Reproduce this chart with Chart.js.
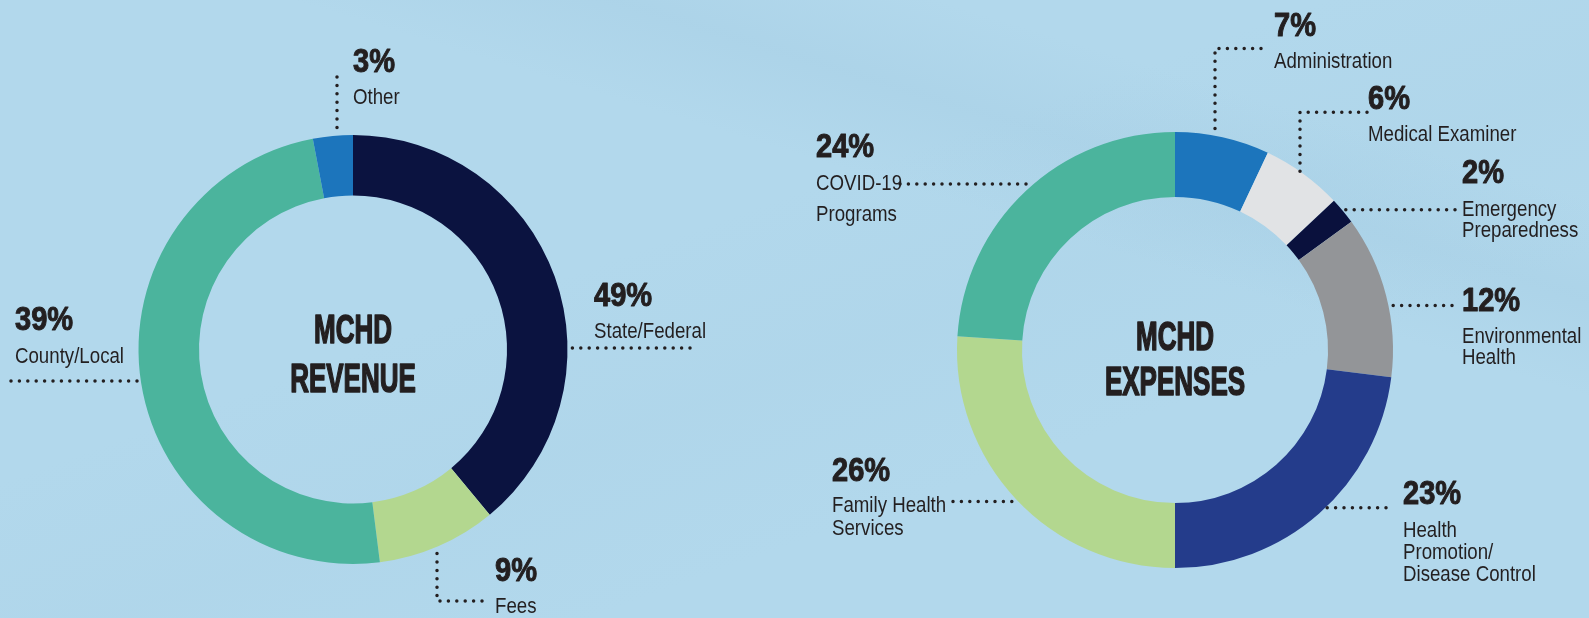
<!DOCTYPE html>
<html>
<head>
<meta charset="utf-8">
<title>MCHD Revenue and Expenses</title>
<script src="https://cdn.jsdelivr.net/npm/chart.js@4/dist/chart.umd.min.js"></script>
<style>
  html, body { margin: 0; padding: 0; }
  body {
    width: 1589px;
    height: 618px;
    overflow: hidden;
    position: relative;
    background:
      linear-gradient(197deg, rgba(255,255,255,0) 18%, rgba(140,185,212,0.14) 27%, rgba(255,255,255,0) 36%),
      linear-gradient(160deg, rgba(255,255,255,0) 40%, rgba(150,192,216,0.08) 55%, rgba(255,255,255,0) 70%),
      #b2d8ec;
  }
  canvas { position: absolute; left: 0; top: 0; }
</style>
</head>
<body>
<canvas id="revenueChart" width="1589" height="618"></canvas>
<canvas id="expenseChart" width="1589" height="618"></canvas>
<script>
// Revenue ring. Arc shares are read off the drawn ring; the printed
// percentages are kept exactly as the graphic prints them.
const revenueNames = ['State/Federal', 'Fees', 'County/Local', 'Other'];
const revenueShares = [39, 9, 49, 3];
const revenuePrinted = ['49%', '9%', '39%', '3%'];
const revenueColors = ['#0b1340', '#b3d78f', '#4bb49d', '#1c75bc'];

// Expense ring
const expenseNames = ['Administration', 'Medical Examiner', 'Emergency\nPreparedness',
  'Environmental\nHealth', 'Health\nPromotion/\nDisease Control', 'Family Health\nServices',
  'COVID-19\nPrograms'];
const expenseShares = [7, 6, 2, 12, 23, 26, 24];
const expensePrinted = expenseShares.map(v => v + '%');
const expenseColors = ['#1c75bc', '#e1e3e5', '#0a113d', '#939598', '#243c8b', '#b3d78f', '#4bb49d'];

const INK = '#231f20';
const FAMILY = "'Liberation Sans', Arial, sans-serif";

// text placement + leader path (label end first, last leg runs to the ring)
const revenueLayout = {
  title: ['MCHD', 'REVENUE'], titleOffsets: [-7, 42],
  callouts: [
    { x: 594, pct: 305.5, lines: [338], path: [[690, 348]], axis: 'h' },
    { x: 495, pct: 581, lines: [613], path: [[482, 601], [437, 601]], axis: 'v' },
    { x: 15, pct: 330, lines: [362.5], path: [[11, 381]], axis: 'h' },
    { x: 353, pct: 72, lines: [103.5], path: [[337, 77]], axis: 'v' }
  ]
};

const expenseLayout = {
  title: ['MCHD', 'EXPENSES'], titleOffsets: [0, 45],
  callouts: [
    { x: 1274, pct: 35.5, lines: [68], path: [[1261, 48.5], [1215, 48.5]], axis: 'v' },
    { x: 1368, pct: 108.5, lines: [141], path: [[1367, 112.3], [1300, 112.3]], axis: 'v' },
    { x: 1462, pct: 183.3, lines: [215.5, 236.7], path: [[1455, 209.7]], axis: 'h' },
    { x: 1462, pct: 310.6, lines: [342.6, 363.8], path: [[1452, 305.5]], axis: 'h' },
    { x: 1403, pct: 503.7, lines: [537, 559, 580.6], path: [[1386, 507.7]], axis: 'h' },
    { x: 832, pct: 481, lines: [512, 534.5], path: [[953, 501.4]], axis: 'h' },
    { x: 816, pct: 157, lines: [189.6, 220.5], path: [[900, 184]], axis: 'h' }
  ]
};

// condensed text: squeeze horizontally, optional outline to thicken heavy faces
function squeezeText(ctx, str, x, y, font, sx, align, heavy) {
  ctx.save();
  ctx.font = font;
  ctx.fillStyle = INK;
  ctx.strokeStyle = INK;
  ctx.textAlign = align;
  ctx.textBaseline = 'alphabetic';
  ctx.translate(x, y);
  ctx.scale(sx, 1);
  ctx.fillText(str, 0, 0);
  if (heavy) {
    ctx.lineWidth = heavy;
    ctx.lineJoin = 'round';
    ctx.strokeText(str, 0, 0);
  }
  ctx.restore();
}

function makeCallouts(names, printed, layout) {
  return {
    id: 'callouts',
    afterDraw(chart) {
      const ctx = chart.ctx;
      const arc = chart.getDatasetMeta(0).data[0];
      const cx = arc.x, cy = arc.y, R = arc.outerRadius;

      layout.title.forEach((t, i) => {
        squeezeText(ctx, t, cx, cy + layout.titleOffsets[i], 'bold 40px ' + FAMILY, 0.65, 'center', 1.6);
      });

      layout.callouts.forEach((c, i) => {
        // leader dots
        const pts = c.path.slice();
        const last = pts[pts.length - 1];
        let end;
        if (c.axis === 'h') {
          const dy = last[1] - cy;
          const side = last[0] < cx ? -1 : 1;
          end = [cx + side * Math.sqrt(R * R - dy * dy), last[1]];
        } else {
          const dx = last[0] - cx;
          const side = last[1] < cy ? -1 : 1;
          end = [last[0], cy + side * Math.sqrt(R * R - dx * dx)];
        }
        pts.push(end);
        ctx.save();
        ctx.strokeStyle = INK;
        ctx.lineWidth = 3.5;
        ctx.lineCap = 'round';
        ctx.setLineDash([0, 8.4]);
        ctx.beginPath();
        ctx.moveTo(pts[0][0], pts[0][1]);
        for (let k = 1; k < pts.length; k++) ctx.lineTo(pts[k][0], pts[k][1]);
        ctx.stroke();
        ctx.restore();

        // percent + name
        squeezeText(ctx, printed[i], c.x, c.pct, 'bold 33px ' + FAMILY, 0.88, 'left', 1.0);
        names[i].split('\n').forEach((ln, k) => {
          squeezeText(ctx, ln, c.x, c.lines[k], '22.5px ' + FAMILY, 0.83, 'left', 0);
        });
      });
    }
  };
}

function ringChart(canvasId, names, shares, colors, cutout, padding, printed, layout) {
  const ctx = document.getElementById(canvasId).getContext('2d');
  return new Chart(ctx, {
    type: 'doughnut',
    data: {
      labels: names,
      datasets: [{
        data: shares,
        backgroundColor: colors,
        borderWidth: 0,
        hoverOffset: 0
      }]
    },
    options: {
      responsive: false,
      animation: false,
      cutout: cutout,
      layout: { padding: padding },
      events: [],
      plugins: { legend: { display: false }, tooltip: { enabled: false } }
    },
    plugins: [makeCallouts(names, printed, layout)]
  });
}

ringChart('revenueChart', revenueNames, revenueShares, revenueColors, '71.8%',
  { left: 138.5, right: 1021.5, top: 135, bottom: 54 }, revenuePrinted, revenueLayout);
ringChart('expenseChart', expenseNames, expenseShares, expenseColors, '70.2%',
  { left: 957, right: 196, top: 132, bottom: 50 }, expensePrinted, expenseLayout);
</script>
</body>
</html>
